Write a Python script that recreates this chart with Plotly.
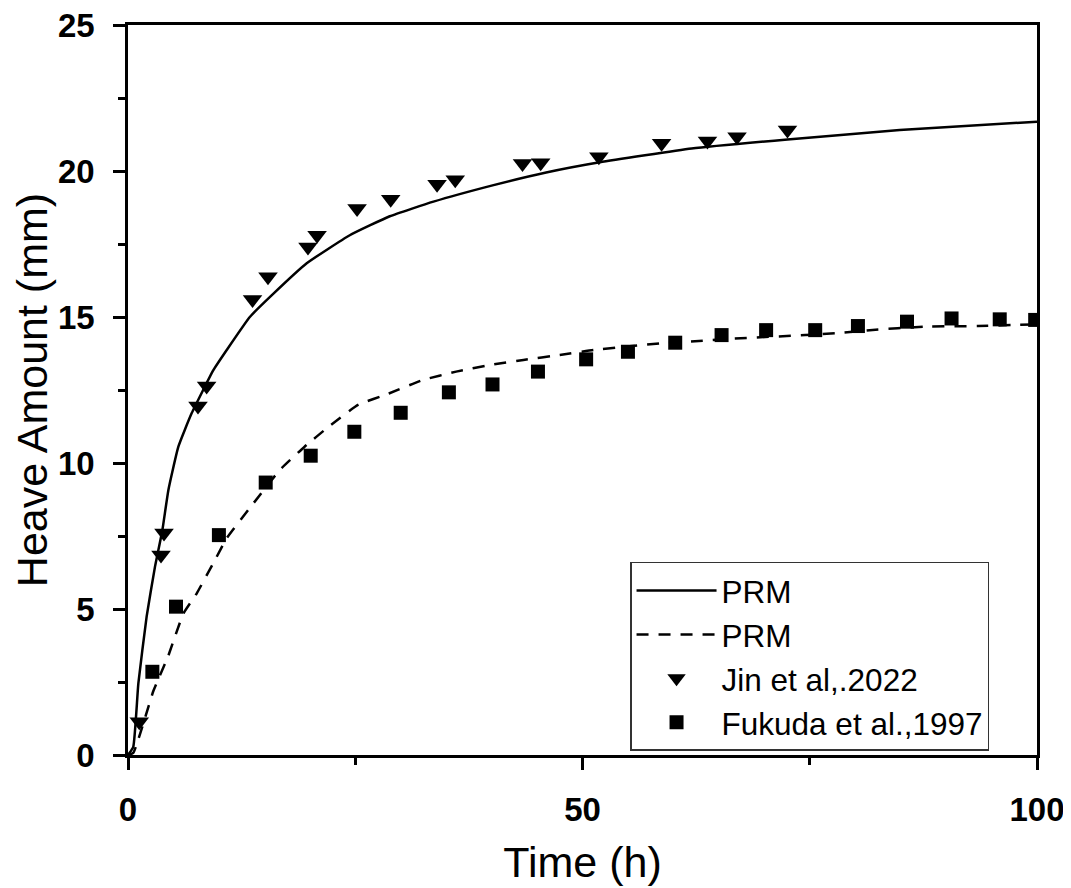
import plotly.graph_objects as go

# PRM model curve (solid) - Jin et al. comparison
prm1_x = [0, 0.58, 1.14, 2.05, 2.97, 3.78, 4.44, 5.54, 7.0, 9.39, 10.86, 13.4, 16.0, 19.66,
          24.4, 28.8, 33.6, 40.0, 46.0, 51.9, 62.0, 72.55, 84.9, 100]
prm1_y = [0, 0.28, 2.45, 4.74, 6.45, 7.7, 9.07, 10.56, 11.7, 13.18, 13.87, 15.0, 15.8, 16.84,
          17.8, 18.45, 18.95, 19.5, 19.95, 20.3, 20.77, 21.08, 21.4, 21.69]

# PRM model curve (dashed) - Fukuda et al. comparison
prm2_x = [0, 0.58, 2.8, 4.4, 6.1, 7.55, 9.57, 10.85, 13.8, 16.7, 19.4, 22.1, 25.3, 28.7,
          32.4, 36.1, 40.1, 43.5, 47.5, 51.2, 58.6, 62.8, 66.5, 74.5, 78.4, 81.6, 87.7,
          93.5, 97.7, 100]
prm2_y = [0, 0.07, 2.2, 3.37, 4.85, 5.53, 6.68, 7.42, 8.62, 9.76, 10.55, 11.25, 11.99, 12.38,
          12.84, 13.13, 13.37, 13.53, 13.7, 13.87, 14.1, 14.18, 14.26, 14.38, 14.46, 14.55,
          14.67, 14.69, 14.73, 14.75]

# Jin et al., 2022 measurements
jin_x = [1.24, 3.63, 3.96, 7.7, 8.65, 13.7, 15.4, 19.8, 20.8, 25.2, 28.9, 34.0, 36.0,
         43.4, 45.4, 51.8, 58.7, 63.75, 67.0, 72.55]
jin_y = [1.14, 6.85, 7.6, 11.95, 12.64, 15.6, 16.38, 17.4, 17.8, 18.72, 19.03, 19.55, 19.7,
         20.26, 20.28, 20.49, 20.95, 21.03, 21.17, 21.4]

# Fukuda et al., 1997 measurements
fuk_x = [2.68, 5.28, 10.0, 15.15, 20.1, 24.9, 30.0, 35.3, 40.1, 45.1, 50.4, 55.0, 60.2,
         65.3, 70.2, 75.6, 80.3, 85.7, 90.6, 95.9, 99.8]
fuk_y = [2.85, 5.08, 7.53, 9.33, 10.25, 11.07, 11.72, 12.42, 12.69, 13.13, 13.55, 13.81,
         14.12, 14.38, 14.55, 14.55, 14.69, 14.84, 14.95, 14.92, 14.9]

x_ticks = [0, 50, 100]
y_ticks = [0, 5, 10, 15, 20, 25]

FONT = "Arial, Liberation Sans, sans-serif"

fig = go.Figure()
fig.add_trace(go.Scatter(x=prm1_x, y=prm1_y, mode="lines", name="PRM",
                         line=dict(color="black", width=2.5, shape="spline", smoothing=0.4)))
fig.add_trace(go.Scatter(x=prm2_x, y=prm2_y, mode="lines", name="PRM",
                         line=dict(color="black", width=2.5, dash="12px,10px",
                                   shape="spline", smoothing=0.4)))
fig.add_trace(go.Scatter(x=jin_x, y=jin_y, mode="markers", name="Jin et al,.2022",
                         marker=dict(symbol="triangle-down", size=17, color="black")))
fig.add_trace(go.Scatter(x=fuk_x, y=fuk_y, mode="markers", name="Fukuda et al.,1997",
                         marker=dict(symbol="square", size=14, color="black")))

axis_common = dict(
    showline=True, linecolor="black", linewidth=2.5, mirror=True,
    ticks="outside", ticklen=12, tickwidth=2.5, tickcolor="black",
    showgrid=False, zeroline=False, automargin=False,
    ticklabeloverflow="allow",
    tickfont=dict(family=FONT, size=33, color="black", weight="bold"),
)

fig.update_xaxes(range=[0, 100], tickvals=x_ticks,
                 minor=dict(tickvals=[25, 75], ticklen=7, tickwidth=2.5, tickcolor="black", ticks="outside"),
                 title=dict(text="Time (h)", font=dict(family=FONT, size=43, color="black"), standoff=20),
                 ticklabelstandoff=12,
                 **axis_common)
fig.update_yaxes(range=[0, 25], tickvals=y_ticks,
                 minor=dict(tickvals=[2.5, 7.5, 12.5, 17.5, 22.5], ticklen=7, tickwidth=2.5,
                            tickcolor="black", ticks="outside"),
                 title=dict(text="Heave Amount (mm)", font=dict(family=FONT, size=43, color="black"), standoff=14),
                 ticklabelstandoff=12,
                 **axis_common)

fig.update_layout(
    width=1063, height=880,
    margin=dict(l=120, r=34, t=17, b=133),
    paper_bgcolor="white", plot_bgcolor="white",
    showlegend=True,
    legend=dict(x=0.5523, y=0.2644, xanchor="left", yanchor="top",
                bgcolor="white", bordercolor="#333333", borderwidth=1.5,
                font=dict(family=FONT, size=31.5, color="black"),
                tracegroupgap=0, itemwidth=80),
)

fig.write_html("out.html")
